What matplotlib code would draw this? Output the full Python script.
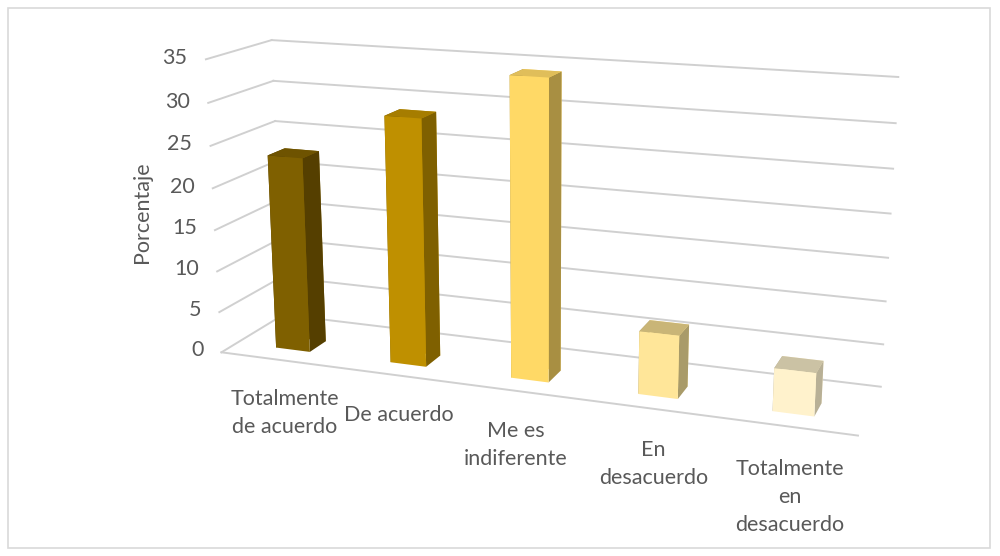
import matplotlib
matplotlib.use("Agg")
import matplotlib.pyplot as plt
from matplotlib.patches import Rectangle
import numpy as np

# datos de la encuesta (%)
categorias = ["Totalmente\nde acuerdo", "De acuerdo", "Me es\nindiferente",
              "En\ndesacuerdo", "Totalmente\nen\ndesacuerdo"]
porcentajes = [23.5, 29.2, 34.7, 7.3, 4.9]
ticks_z = [0, 5, 10, 15, 20, 25, 30, 35]

# colores por barra: frente, lado derecho, tapa
col_frente = ["#7F6000", "#BF9000", "#FFD966", "#FFE699", "#FFF2CC"]
col_lado = ["#553F00", "#7F6000", "#A88F42", "#A99B69", "#B8B096"]
col_tapa = ["#6E5300", "#A67D00", "#E0BE5A", "#C9B577", "#CBC2A4"]

gris_txt = "#595959"
gris_grid = "#D0D0D0"
plt.rcParams["font.family"] = ["Lato", "DejaVu Sans"]

fig = plt.figure(figsize=(10, 5.56), dpi=100)
ax = fig.add_axes([0.034, 0.087, 1.0, 1.0], projection="3d", computed_zorder=False)

n = len(porcentajes)
prof = 1.0          # fondo del piso
ancho, fondo = 0.30, 0.27
y_barra = 0.38 * prof
zmax = ticks_z[-1]

ax.set_xlim(-0.5, n - 0.5)
ax.set_ylim(0, prof)
ax.set_zlim(0, zmax)
ax.set_box_aspect((670, 135, 312), zoom=1.31)
ax.view_init(elev=15, azim=-70)
ax.set_proj_type("persp", focal_length=0.55)
ax.set_xticks([])
ax.set_yticks([])
ax.set_zticks([])
ax.set_axis_off()
for eje in (ax.xaxis, ax.yaxis, ax.zaxis):
    eje.label.set_visible(False)
    eje.offsetText.set_visible(False)

M = ax.get_proj()


def proyectar(x, y, z):
    # punto 3D -> coordenadas 2D del eje (mismas que usan las barras)
    v = M @ np.array([x, y, z, 1.0])
    return v[0] / v[3], v[1] / v[3]


# rejilla en pared del fondo y pared izquierda
for z in ticks_z:
    ax.plot([-0.5, n - 0.5], [prof, prof], [z, z], color=gris_grid, lw=1.4,
            zorder=1, clip_on=False)
    ax.plot([-0.5, -0.5], [0, prof], [z, z], color=gris_grid, lw=1.4,
            zorder=1, clip_on=False)
    px, py = proyectar(-0.66, 0, z)
    ax.text2D(px, py, str(z), transform=ax.transData, ha="right", va="center",
              fontsize=15.5, color=gris_txt, clip_on=False)
# borde delantero del piso
ax.plot([-0.5, n - 0.5], [0, 0], [0, 0], color=gris_grid, lw=1.4, zorder=1, clip_on=False)

# barras
for i, v in enumerate(porcentajes):
    caras = ["none", col_tapa[i], col_frente[i], col_frente[i], col_lado[i], col_lado[i]]
    barra = ax.bar3d(i - ancho / 2, y_barra - fondo / 2, 0, ancho, fondo, v,
                     color=caras, shade=False, zorder=2 + i)
    barra.set_clip_on(False)

# etiquetas de categorias (corrimiento horizontal de cada una)
corr = [0.05, 0.03, -0.02, 0.04, 0.035]
for i, cat in enumerate(categorias):
    px, py = proyectar(i + corr[i], 0, -3.6)
    ax.text2D(px, py, cat, transform=ax.transData, ha="center", va="top",
              fontsize=15.5, color=gris_txt, linespacing=1.5, clip_on=False)

fig.text(0.142, 1 - 212 / 556, "Porcentaje", rotation=90, ha="center", va="center",
         fontsize=15.5, color=gris_txt)

# marco del grafico
fig.patches.append(Rectangle((8 / 1000, 8 / 556), 982 / 1000, 540 / 556,
                             transform=fig.transFigure, fill=False,
                             edgecolor="#D9D9D9", lw=1.2))

fig.savefig("out.png", dpi=100)
